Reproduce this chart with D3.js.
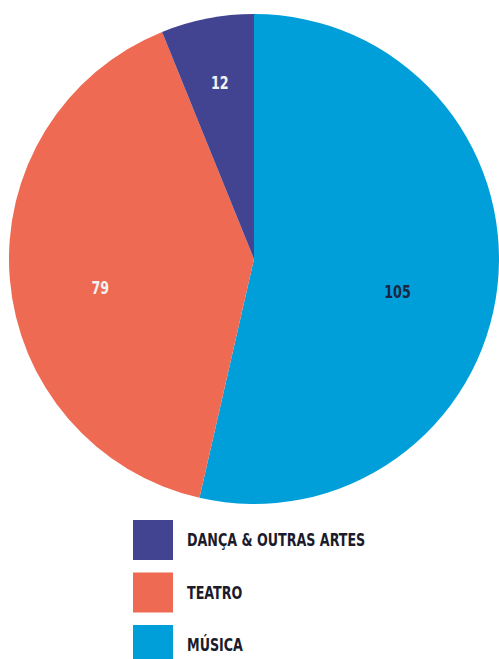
<!DOCTYPE html>
<html>
<head>
<meta charset="utf-8">
<script src="https://cdn.jsdelivr.net/npm/d3@7"></script>
<style>
  html, body { margin: 0; padding: 0; background: #fff; }
  svg { display: block; }
  text { font-family: "DejaVu Sans Condensed", "Liberation Sans Narrow", sans-serif; font-weight: bold; }
</style>
</head>
<body>
<svg id="chart" width="499" height="659"></svg>
<script>
// Performances by artistic area
const categories = ["MÚSICA", "TEATRO", "DANÇA & OUTRAS ARTES"];
const values = [105, 79, 12];
const colors = ["#009FDA", "#EE6A52", "#434491"];
const labelColors = ["#1C2541", "#F2F2F2", "#F2F2F2"];
const legendOrder = ["DANÇA & OUTRAS ARTES", "TEATRO", "MÚSICA"];

const svg = d3.select("#chart");
const cx = 254, cy = 259, R = 245;
const squeeze = 0.83; // narrow the condensed face a little further

const total = d3.sum(values);
const data = categories.map((c, i) => ({ category: c, value: values[i], color: colors[i], labelColor: labelColors[i] }));

const pie = d3.pie().value(d => d.value).sort(null);
const arcs = pie(data);
const arc = d3.arc().innerRadius(0).outerRadius(R);

const g = svg.append("g").attr("transform", `translate(${cx},${cy})`);

g.selectAll("path.slice")
  .data(arcs)
  .join("path")
  .attr("class", "slice")
  .attr("d", arc)
  .attr("fill", d => d.data.color);

// Value labels: smaller slices place their label further out
g.selectAll("text.value")
  .data(arcs)
  .join("text")
  .attr("class", "value")
  .attr("transform", d => {
    const frac = d.data.value / total;
    const r = R * (0.75 - 0.3 * frac);
    const a = (d.startAngle + d.endAngle) / 2;
    const off = frac > 0.2 ? 17 : 0;
    return `translate(${r * Math.sin(a)},${-r * Math.cos(a) + off}) scale(${squeeze},1)`;
  })
  .attr("text-anchor", "middle")
  .attr("dy", "0.36em")
  .attr("font-size", 17)
  .attr("fill", d => d.data.labelColor)
  .text(d => d.data.value);

// Legend
const color = d3.scaleOrdinal().domain(categories).range(colors);
const legendY = d3.scalePoint().domain(legendOrder).range([540, 645]);

const items = svg.append("g").selectAll("g.item")
  .data(legendOrder)
  .join("g")
  .attr("class", "item")
  .attr("transform", d => `translate(133,${legendY(d)})`);

items.append("rect")
  .attr("x", 0)
  .attr("y", -20)
  .attr("width", 40)
  .attr("height", 40)
  .attr("fill", d => color(d));

items.append("text")
  .attr("transform", `translate(54,0) scale(${squeeze},1)`)
  .attr("dy", "0.36em")
  .attr("font-size", 17)
  .attr("fill", "#1B1B2B")
  .text(d => d);
</script>
</body>
</html>
